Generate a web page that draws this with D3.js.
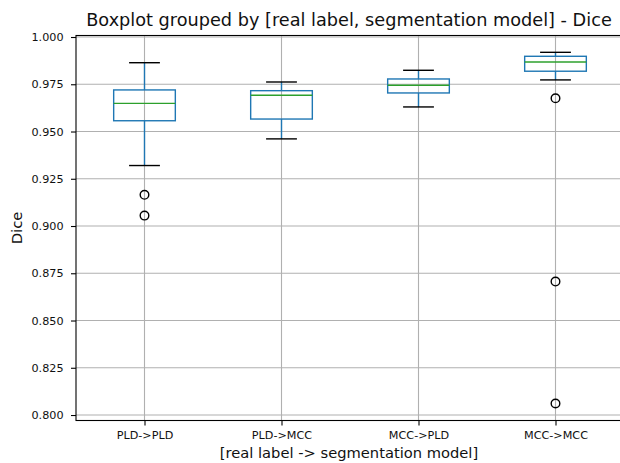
<!DOCTYPE html>
<html>
<head>
<meta charset="utf-8">
<script src="https://cdn.jsdelivr.net/npm/d3@7"></script>
<style>
  body { margin: 0; background: #fff; }
  svg { display: block; font-family: "DejaVu Sans", sans-serif; }
  .tick text { fill: #111; }
</style>
</head>
<body>
<div id="chart"></div>
<script>
// groups
var groups = ["PLD->PLD", "PLD->MCC", "MCC->PLD", "MCC->MCC"];
var whiskerLow = [0.9320, 0.9461, 0.9630, 0.9773];
var q1 = [0.9557, 0.9566, 0.9704, 0.9819];
var median = [0.9649, 0.9692, 0.9745, 0.9868];
var q3 = [0.9720, 0.9716, 0.9778, 0.9898];
var whiskerHigh = [0.9864, 0.9762, 0.9824, 0.9919];
var outliers = [[0.9165, 0.9055], [], [], [0.9676, 0.8706, 0.8061]];
var yTicks = [0.800, 0.825, 0.850, 0.875, 0.900, 0.925, 0.950, 0.975, 1.000];

var W = 620, H = 463;
// plot box (right edge runs past the window, as in the original)
var pLeft = 76, pRight = 624, pTop = 35.5, pBottom = 420.5;
var boxColor = "#1f77b4", medColor = "#2ca02c", gridColor = "#b0b0b0";

var svg = d3.select("#chart").append("svg")
    .attr("width", W)
    .attr("height", H);

var x = d3.scalePoint()
    .domain(groups)
    .range([pLeft, pRight])
    .padding(0.5);
var step = x.step();
var boxW = step * 0.45;
var capW = boxW / 2;

var y = d3.scaleLinear()
    .domain([0.7971, 1.0008])
    .range([pBottom, pTop]);

var stats = groups.map(function(g, i) {
    return {
        name: g,
        lo: whiskerLow[i],
        q1: q1[i],
        med: median[i],
        q3: q3[i],
        hi: whiskerHigh[i],
        out: outliers[i]
    };
});

// grid
var grid = svg.append("g");
grid.selectAll("line.gy")
    .data(yTicks)
    .enter()
    .append("line")
    .attr("x1", pLeft).attr("x2", pRight)
    .attr("y1", function(d) { return y(d); })
    .attr("y2", function(d) { return y(d); })
    .attr("stroke", gridColor)
    .attr("stroke-width", 1.1);
grid.selectAll("line.gx")
    .data(groups)
    .enter()
    .append("line")
    .attr("x1", function(d) { return x(d); })
    .attr("x2", function(d) { return x(d); })
    .attr("y1", pTop).attr("y2", pBottom)
    .attr("stroke", gridColor)
    .attr("stroke-width", 1.1);

// boxes
var bx = svg.append("g").selectAll("g")
    .data(stats)
    .enter()
    .append("g");

bx.append("line") // lower whisker
    .attr("x1", function(d) { return x(d.name); })
    .attr("x2", function(d) { return x(d.name); })
    .attr("y1", function(d) { return y(d.lo); })
    .attr("y2", function(d) { return y(d.q1); })
    .attr("stroke", boxColor).attr("stroke-width", 1.4);
bx.append("line") // upper whisker
    .attr("x1", function(d) { return x(d.name); })
    .attr("x2", function(d) { return x(d.name); })
    .attr("y1", function(d) { return y(d.q3); })
    .attr("y2", function(d) { return y(d.hi); })
    .attr("stroke", boxColor).attr("stroke-width", 1.4);
bx.append("rect")
    .attr("x", function(d) { return x(d.name) - boxW / 2; })
    .attr("y", function(d) { return y(d.q3); })
    .attr("width", boxW)
    .attr("height", function(d) { return y(d.q1) - y(d.q3); })
    .attr("fill", "none")
    .attr("stroke", boxColor).attr("stroke-width", 1.4);
bx.append("line")
    .attr("x1", function(d) { return x(d.name) - boxW / 2; })
    .attr("x2", function(d) { return x(d.name) + boxW / 2; })
    .attr("y1", function(d) { return y(d.med); })
    .attr("y2", function(d) { return y(d.med); })
    .attr("stroke", medColor).attr("stroke-width", 1.4);
["lo", "hi"].forEach(function(k) {
    bx.append("line")
        .attr("x1", function(d) { return x(d.name) - capW / 2; })
        .attr("x2", function(d) { return x(d.name) + capW / 2; })
        .attr("y1", function(d) { return y(d[k]); })
        .attr("y2", function(d) { return y(d[k]); })
        .attr("stroke", "#000").attr("stroke-width", 1.4);
});
bx.selectAll("circle")
    .data(function(d) {
        return d.out.map(function(v) { return { name: d.name, v: v }; });
    })
    .enter()
    .append("circle")
    .attr("cx", function(d) { return x(d.name); })
    .attr("cy", function(d) { return y(d.v); })
    .attr("r", 4.3)
    .attr("fill", "none")
    .attr("stroke", "#000")
    .attr("stroke-width", 1.4);

// axes
var yAxis = svg.append("g")
    .attr("transform", "translate(" + pLeft + ",0)")
    .call(d3.axisLeft(y).tickValues(yTicks).tickFormat(d3.format(".3f"))
        .tickSize(5).tickPadding(7.5).tickSizeOuter(0));
var xAxis = svg.append("g")
    .attr("transform", "translate(0," + pBottom + ")")
    .call(d3.axisBottom(x).tickSize(5).tickPadding(6).tickSizeOuter(0));
[xAxis, yAxis].forEach(function(a) {
    a.select(".domain").remove();
    a.selectAll(".tick line").attr("stroke", "#000").attr("stroke-width", 1.1);
    a.selectAll(".tick text").attr("font-size", "11.2px").attr("font-family", "DejaVu Sans");
});

// frame
svg.append("rect")
    .attr("x", pLeft).attr("y", pTop)
    .attr("width", pRight - pLeft).attr("height", pBottom - pTop)
    .attr("fill", "none")
    .attr("stroke", "#000")
    .attr("stroke-width", 1.1);

// texts
svg.append("text")
    .attr("x", 349)
    .attr("y", 25.5)
    .attr("text-anchor", "middle")
    .attr("font-size", "17.7px")
    .attr("fill", "#111")
    .text("Boxplot grouped by [real label, segmentation model] - Dice");
svg.append("text")
    .attr("x", 349)
    .attr("y", 458)
    .attr("text-anchor", "middle")
    .attr("font-size", "14.7px")
    .attr("fill", "#111")
    .text("[real label -> segmentation model]");
svg.append("text")
    .attr("transform", "translate(22," + (pTop + pBottom) / 2 + ") rotate(-90)")
    .attr("text-anchor", "middle")
    .attr("font-size", "14.7px")
    .attr("fill", "#111")
    .text("Dice");
</script>
</body>
</html>
